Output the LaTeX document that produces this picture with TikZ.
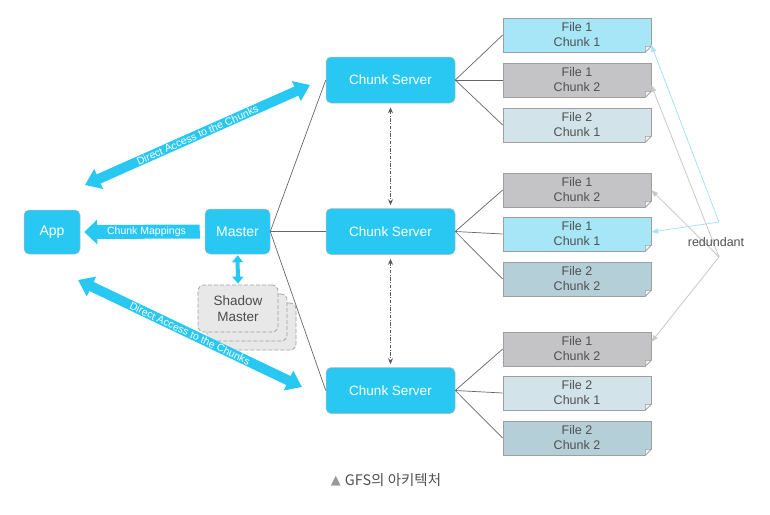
\documentclass[tikz,border=0pt]{standalone}
\usepackage{fontspec}
\setmainfont{Liberation Sans}
\newfontfamily\krfont{Noto Sans CJK KR}
\newfontfamily\symfont{DejaVu Sans}
\usetikzlibrary{arrows.meta,calc}
\definecolor{cy}{RGB}{40,200,242}
\definecolor{cyline}{RGB}{166,228,245}
\definecolor{fa}{RGB}{166,230,247}
\definecolor{fb}{RGB}{196,196,198}
\definecolor{fc}{RGB}{210,228,234}
\definecolor{fd}{RGB}{181,207,217}
\definecolor{txt}{RGB}{80,80,80}
\definecolor{rg}{RGB}{200,200,200}
\begin{document}
\begin{tikzpicture}[x=1pt,y=-1pt,
  bluebox/.style={draw=gray!55, line width=0.5pt, fill=cy, rounded corners=5pt, text=white, inner sep=0pt},
  serverbox/.style={bluebox, minimum width=129pt, minimum height=46pt, font=\fontsize{13.5}{15}\selectfont},
  filebox/.style={draw=gray!75, line width=0.6pt, minimum width=148pt, minimum height=34pt, inner sep=0pt, text=txt, font=\fontsize{12.5}{15}\selectfont, align=center},
  shadowbox/.style={draw=gray!75, fill=gray!18, line width=0.7pt, dash pattern=on 4pt off 2pt, rounded corners=6pt, minimum width=80pt, minimum height=47pt, inner sep=0pt},
  treeline/.style={draw=black!60, line width=0.7pt},
  bigarrow/.style={draw=cy, line width=#1},
  redline/.style={line width=0.8pt, -{Triangle[length=7pt,width=5pt]}},
  dashdot/.style={black!65, line width=1pt, dash pattern=on 3.5pt off 1.5pt on 1pt off 1.5pt, {Stealth[length=6pt,width=5pt]}-{Stealth[length=6pt,width=5pt]}, shorten <=4pt, shorten >=3pt},
]
\useasboundingbox (0,0) rectangle (770,514);

% main nodes
\node[bluebox, minimum width=56pt, minimum height=44pt, font=\fontsize{14}{16}\selectfont] (app) at (52,232) {App};
\node[bluebox, minimum width=65pt, minimum height=45pt, font=\fontsize{14}{16}\selectfont] (master) at (237.5,231.5) {Master};
\node[serverbox] (cs1) at (390.5,80) {Chunk Server};
\node[serverbox] (cs2) at (390.5,231.5) {Chunk Server};
\node[serverbox] (cs3) at (390.5,390.5) {Chunk Server};

% shadow master stack
\node[shadowbox] (sh3) at (256,326.5) {};
\node[shadowbox] (sh2) at (247,317.5) {};
\node[shadowbox, text=black!70, align=center, font=\fontsize{13.5}{16}\selectfont] (shadow) at (238,308.5) {Shadow\\Master};

% file boxes
\node[filebox, fill=fa] (t1) at (577,35) {File 1\\Chunk 1};
\node[filebox, fill=fb] (t2) at (577,80) {File 1\\Chunk 2};
\node[filebox, fill=fc] (t3) at (577,125) {File 2\\Chunk 1};
\node[filebox, fill=fb] (m1) at (577,190) {File 1\\Chunk 2};
\node[filebox, fill=fa] (m2) at (577,234) {File 1\\Chunk 1};
\node[filebox, fill=fd] (m3) at (577,279) {File 2\\Chunk 2};
\node[filebox, fill=fb] (b1) at (577,349) {File 1\\Chunk 2};
\node[filebox, fill=fc] (b2) at (577,393) {File 2\\Chunk 1};
\node[filebox, fill=fd] (b3) at (577,438) {File 2\\Chunk 2};

\foreach \n in {t1,t2,t3,m1,m2,m3,b1,b2,b3}{
  \fill[white] ($(\n.south east)+(-6,0.6)$) -- ($(\n.south east)+(0.6,-6)$) -- ($(\n.south east)+(0.6,0.6)$) -- cycle;
  \draw[gray!75, line width=0.6pt, fill=white!90!gray, line join=round] ($(\n.south east)+(-6,0)$) -- ($(\n.south east)+(0,-6)$) -- ($(\n.south east)+(-6,-6)$) -- cycle;
}

% master to servers
\draw[treeline] (master.east) -- (cs1.west);
\draw[treeline] (master.east) -- (cs2.west);
\draw[treeline] (master.east) -- (cs3.west);

% servers to files
\foreach \s/\a/\b/\c in {cs1/t1/t2/t3, cs2/m1/m2/m3, cs3/b1/b2/b3}{
  \draw[treeline] (\s.east) -- (\a.west);
  \draw[treeline] (\s.east) -- (\b.west);
  \draw[treeline] (\s.east) -- (\c.west);
}

% server to server dash-dot arrows
\draw[dashdot] (cs1.south) -- (cs2.north);
\draw[dashdot] (cs2.south) -- (cs3.north);

% chunk mappings arrow
\draw[bigarrow=14pt, -{Triangle[length=13pt,width=24pt]}, shorten <=5pt, shorten >=4pt] (master.west) -- (app.east)
  node[midway, xshift=4pt, text=white, font=\fontsize{10.5}{12}\selectfont] (cmlabel) {Chunk Mappings};

% master <-> shadow
\draw[bigarrow=4pt, {Triangle[length=7pt,width=11pt]}-{Triangle[length=7pt,width=11pt]}, shorten <=1pt, shorten >=1pt] (master.south) -- (shadow.north);

% direct access arrows
\coordinate (da1) at (85,185);
\coordinate (da2) at (310,85);
\coordinate (da3) at (78,280);
\coordinate (da4) at (302,387);
\draw[bigarrow=10pt, {Triangle[length=15pt,width=21pt]}-{Triangle[length=15pt,width=21pt]}] (da1) -- (da2)
  node[midway, sloped, text=white, font=\fontsize{10.5}{12}\selectfont, inner sep=0pt] (dal1) {Direct Access to the Chunks};
\draw[bigarrow=10pt, {Triangle[length=15pt,width=21pt]}-{Triangle[length=15pt,width=21pt]}] (da3) -- (da4)
  node[midway, sloped, text=white, font=\fontsize{10.5}{12}\selectfont, inner sep=0pt] (dal2) {Direct Access to the Chunks};

% redundant
\coordinate (rc) at (719,222);
\coordinate (rgv) at (719,257);
\draw[redline, cyline] (rc) -- ($(t1.east)+(0,10)$);
\draw[redline, cyline] (rc) -- ($(m2.east)+(0,-2)$);
\draw[redline, rg] (rgv) -- ($(t2.east)+(0,5)$);
\draw[redline, rg] (rgv) -- (m1.east);
\draw[redline, rg] (rgv) -- ($(b1.east)+(0,-7)$);
\node[text=txt, font=\fontsize{12.5}{14}\selectfont] (red) at (716,242) {redundant};

% caption
\node[text=txt, font=\krfont\fontsize{14.5}{16}\selectfont] (cap) at (386,480) {\raisebox{0.5pt}{\symfont\fontsize{13}{14}\selectfont\color{gray!80}▲}\hspace{4pt}GFS의 아키텍처};
\end{tikzpicture}
\end{document}
